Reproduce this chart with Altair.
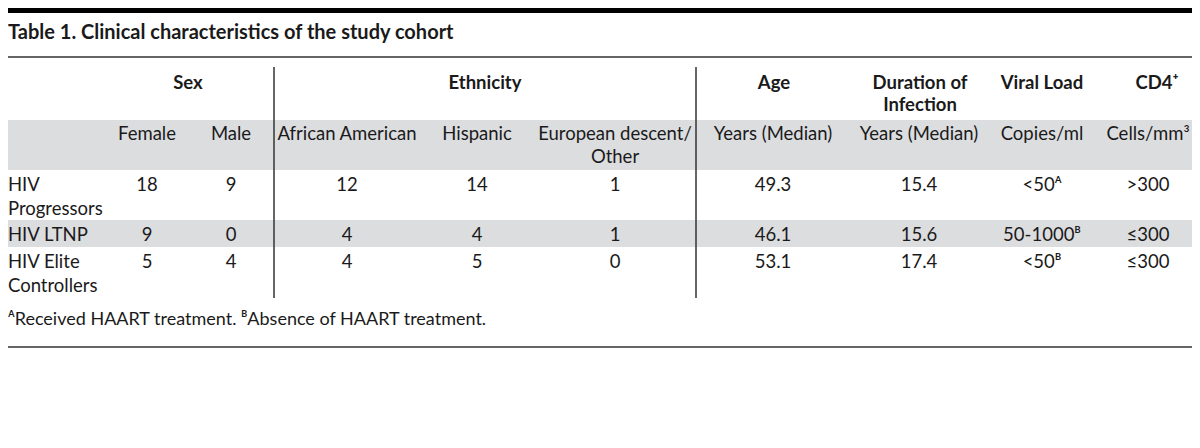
import altair as alt
import pandas as pd

# ---------------- data ----------------
title_text = "Table 1. Clinical characteristics of the study cohort"
group_headers = ["Sex", "Ethnicity", "Age", "Duration of\nInfection", "Viral Load", "CD4⁺"]
sub_headers = ["Female", "Male", "African American", "Hispanic", "European descent/\nOther",
               "Years (Median)", "Years (Median)", "Copies/ml", "Cells/mm³"]
cohorts = ["HIV\nProgressors", "HIV LTNP", "HIV Elite\nControllers"]
female = [18, 9, 5]
male = [9, 0, 4]
african_american = [12, 4, 4]
hispanic = [14, 4, 5]
european_other = [1, 1, 0]
age_median = ["49.3", "46.1", "53.1"]
duration_median = ["15.4", "15.6", "17.4"]
viral_load = ["<50ᴬ", "50-1000ᴮ", "<50ᴮ"]
cd4_count = [">300", "≤300", "≤300"]
footnote = "ᴬReceived HAART treatment. ᴮAbsence of HAART treatment."

# ---------------- layout ----------------
W, H = 1184, 432
LEFT = 8
FONT = "Lato"
TXT = "#1a1a1a"
GROUP_X = [188, 485, 774, 920, 1042, 1157]
COL_X = [147, 231, 347, 477, 615, 773, 919, 1042, 1148]
GROUP_Y, GROUP_LH = 83, 22
SUB_Y, SUB_LH = 134, 23
ROW_Y, ROW_LH = [185, 235, 262], 24
TITLE_Y = 33
FOOT_Y = 320

xs = alt.Scale(domain=[8, 8 + W], nice=False, zero=False)
ys = alt.Scale(domain=[8, 8 + H], nice=False, zero=False, reverse=True)


def lines(text, x, y, lh):
    return [{"x": x, "y": y + i * lh, "t": s} for i, s in enumerate(text.split("\n"))]


def text_layer(records, align="center", bold=False, size=18.5):
    df = pd.DataFrame(records)
    return alt.Chart(df).mark_text(
        align=align, baseline="middle", font=FONT, fontSize=size,
        fontWeight="bold" if bold else "normal", color=TXT
    ).encode(
        x=alt.X("x:Q", scale=xs, axis=None),
        y=alt.Y("y:Q", scale=ys, axis=None),
        text="t:N",
    )


# group headers
grp = []
for t, x in zip(group_headers, GROUP_X):
    grp += lines(t, x, GROUP_Y, GROUP_LH)

# sub headers
sub = []
for t, x in zip(sub_headers, COL_X):
    sub += lines(t, x, SUB_Y, SUB_LH)

# body values
cols = [female, male, african_american, hispanic, european_other,
        age_median, duration_median, viral_load, cd4_count]
body = []
for ci, col in enumerate(cols):
    for ri, v in enumerate(col):
        body.append({"x": COL_X[ci], "y": ROW_Y[ri], "t": str(v)})

labels = []
for ri, c in enumerate(cohorts):
    labels += lines(c, LEFT, ROW_Y[ri], ROW_LH)

# shapes
bands = pd.DataFrame({"x": [0, 0], "x2": [1200, 1200], "y": [120, 220], "y2": [170, 247]})
topbar = pd.DataFrame({"x": [0], "x2": [1200], "y": [8], "y2": [13]})
vlines = pd.DataFrame({"x": [274, 696], "y": [67, 67], "y2": [298, 298]})
title_rule = pd.DataFrame({"x": [0], "x2": [1200], "y": [57]})
bottom_rule = pd.DataFrame({"x": [0], "x2": [1200], "y": [347]})

band_layer = alt.Chart(bands).mark_rect(color="#dcdddf").encode(
    x=alt.X("x:Q", scale=xs, axis=None), x2="x2:Q",
    y=alt.Y("y:Q", scale=ys, axis=None), y2="y2:Q")
top_layer = alt.Chart(topbar).mark_rect(color="#000000").encode(
    x=alt.X("x:Q", scale=xs, axis=None), x2="x2:Q",
    y=alt.Y("y:Q", scale=ys, axis=None), y2="y2:Q")
vline_layer = alt.Chart(vlines).mark_rule(color="#333333", strokeWidth=1.5).encode(
    x=alt.X("x:Q", scale=xs, axis=None),
    y=alt.Y("y:Q", scale=ys, axis=None), y2="y2:Q")
trule_layer = alt.Chart(title_rule).mark_rule(color="#333333", strokeWidth=1.5).encode(
    x=alt.X("x:Q", scale=xs, axis=None), x2="x2:Q",
    y=alt.Y("y:Q", scale=ys, axis=None))
brule_layer = alt.Chart(bottom_rule).mark_rule(color="#666666", strokeWidth=2).encode(
    x=alt.X("x:Q", scale=xs, axis=None), x2="x2:Q",
    y=alt.Y("y:Q", scale=ys, axis=None))

title_layer = text_layer([{"x": LEFT, "y": TITLE_Y, "t": title_text}], align="left", bold=True, size=20)
foot_layer = text_layer([{"x": LEFT, "y": FOOT_Y, "t": footnote}], align="left", size=18)

chart = alt.layer(
    band_layer, top_layer, trule_layer, brule_layer, vline_layer,
    title_layer,
    text_layer(grp, bold=True),
    text_layer(sub),
    text_layer(body),
    text_layer(labels, align="left"),
    foot_layer,
).properties(
    width=W, height=H, padding=0,
    autosize=alt.AutoSizeParams(type="none"),
    background="white",
).configure_view(stroke=None)

chart.save("out.html", embed_options={"renderer": "svg", "actions": False})
